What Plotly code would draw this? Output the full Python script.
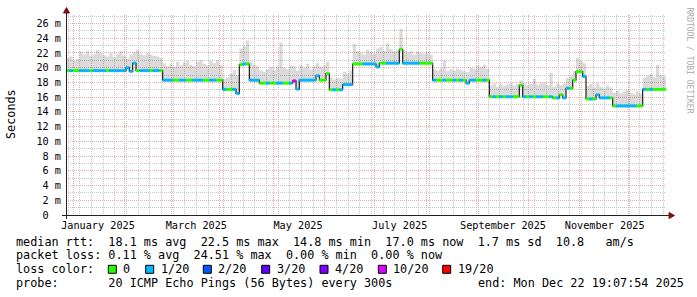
import pandas as pd
import plotly.graph_objects as go

# ---------------- data ----------------
start = pd.Timestamp("2024-12-27 19:07:54")
end = pd.Timestamp("2025-12-22 19:07:54")
step = pd.Timedelta(days=2)

median_ms = [
    19.6, 19.6, 19.6, 19.6, 19.6, 19.6, 19.6, 19.6, 19.6, 19.6,
    19.6, 19.6, 19.6, 19.6, 19.6, 19.6, 19.6, 19.6, 20.0, 19.5,
    20.6, 19.6, 19.6, 19.6, 19.6, 19.6, 19.6, 19.6, 19.6, 18.3,
    18.3, 18.3, 18.3, 18.3, 18.3, 18.3, 18.3, 18.3, 18.3, 18.3,
    18.3, 18.3, 18.3, 18.3, 18.3, 18.3, 18.3, 17.05, 17.05, 17.05,
    17.05, 16.5, 20.4, 20.5, 20.5, 18.3, 18.3, 18.3, 17.9, 17.9,
    17.9, 17.9, 17.9, 17.9, 17.9, 17.9, 17.9, 17.9, 18.2, 17.1,
    18.3, 18.3, 18.3, 18.3, 18.3, 18.9, 18.3, 18.3, 19.2, 17.0,
    17.0, 17.0, 17.0, 17.7, 17.7, 17.7, 20.5, 20.5, 20.5, 20.5,
    20.5, 20.5, 20.5, 20.1, 20.6, 20.6, 20.6, 20.6, 20.6, 20.6,
    22.5, 20.6, 20.6, 20.6, 20.6, 20.6, 20.6, 20.6, 20.6, 20.6,
    18.3, 18.3, 18.3, 18.3, 18.3, 18.3, 18.3, 18.3, 18.3, 18.3,
    17.9, 18.3, 18.3, 18.3, 18.3, 18.3, 18.3, 16.05, 16.05, 16.05,
    16.05, 16.05, 16.05, 16.05, 16.05, 16.05, 17.6, 16.05, 16.05, 16.05,
    16.05, 16.05, 16.05, 16.05, 16.05, 16.05, 15.9, 15.9, 16.3, 15.9,
    17.2, 17.2, 18.3, 19.45, 19.45, 18.8, 15.75, 15.75, 15.75, 16.3,
    15.9, 15.9, 15.9, 15.9, 14.8, 14.8, 14.8, 14.8, 14.8, 14.8,
    14.8, 14.8, 14.8, 17.05, 17.05, 17.05, 17.05, 17.05, 17.05, 17.05,
]

smoke_top_ms = [
    21.3, 21.5, 20.9, 21.2, 22.2, 21.8, 22.3, 21.6, 21.9, 22.4,
    22.0, 21.7, 21.5, 22.0, 21.4, 21.9, 22.3, 21.6, 21.2, 21.8,
    22.1, 22.4, 21.9, 21.7, 22.0, 21.8, 21.6, 21.5, 21.3, 20.6,
    20.2, 20.5, 20.1, 20.8, 20.3, 20.7, 20.9, 20.4, 20.2, 20.8,
    21.0, 20.5, 20.3, 20.9, 20.6, 21.0, 20.4, 18.5, 18.7, 19.2,
    19.7, 19.0, 22.6, 22.9, 23.7, 20.8, 20.4, 20.2, 19.6, 19.4,
    19.8, 20.1, 19.7, 20.2, 23.4, 20.0, 19.8, 20.3, 20.2, 19.6,
    20.4, 20.0, 20.5, 19.8, 20.2, 20.6, 20.1, 20.3, 20.8, 18.7,
    18.4, 18.6, 18.5, 19.4, 19.2, 19.6, 23.2, 22.3, 22.0, 21.8,
    22.4, 22.1, 21.9, 22.6, 22.8, 22.3, 23.3, 22.5, 22.2, 22.4,
    25.3, 22.4, 22.0, 22.3, 21.8, 22.2, 22.0, 21.9, 22.1, 21.8,
    19.8, 19.6, 19.9, 21.0, 19.5, 19.8, 19.6, 19.9, 19.7, 19.5,
    19.4, 20.0, 19.8, 20.3, 20.1, 20.4, 19.9, 17.6, 17.9, 17.4,
    17.8, 17.5, 17.7, 17.9, 17.6, 17.8, 18.3, 17.9, 17.6, 17.8,
    18.5, 17.7, 17.9, 18.0, 17.6, 19.3, 17.4, 17.8, 17.6, 17.9,
    18.6, 18.9, 19.5, 21.3, 20.9, 20.6, 17.5, 17.8, 17.3, 17.9,
    17.4, 17.2, 17.6, 17.3, 16.6, 16.9, 16.5, 16.8, 17.0, 16.6,
    16.4, 16.8, 16.5, 18.6, 18.9, 19.2, 18.7, 20.4, 19.0, 18.8,
]

# pings lost out of 20 (averaged, binned to the legend classes)
loss = [
    0, 1, 0, 0, 1, 1, 1, 0, 1, 1, 1, 1, 0, 1, 1, 1, 1, 1, 1, 1,
    1, 0, 1, 1, 1, 0, 1, 1, 0, 1, 1, 1, 0, 0, 1, 1, 0, 0, 1, 1,
    1, 0, 0, 1, 1, 0, 0, 1, 0, 0, 1, 1, 0, 1, 0, 1, 1, 1, 0, 0,
    1, 0, 0, 1, 1, 0, 0, 1, 10, 1, 1, 1, 1, 1, 1, 1, 0, 0, 0, 0,
    1, 0, 1, 1, 1, 1, 0, 0, 0, 1, 1, 1, 1, 1, 0, 0, 1, 1, 1, 1,
    0, 1, 1, 1, 1, 1, 0, 0, 0, 0, 1, 0, 0, 1, 0, 0, 1, 0, 1, 0,
    1, 1, 1, 0, 0, 1, 0, 0, 1, 0, 1, 0, 1, 1, 0, 0, 0, 1, 0, 1,
    0, 1, 1, 0, 0, 1, 0, 1, 0, 1, 1, 0, 0, 0, 0, 1, 0, 1, 0, 1,
    1, 1, 1, 0, 0, 1, 1, 1, 1, 1, 1, 0, 0, 1, 0, 1, 0, 0, 0, 0,
]

loss_classes = [0, 1, 2, 3, 4, 10, 19]
loss_labels = ["0", "1/20", "2/20", "3/20", "4/20", "10/20", "19/20"]
loss_colors = ["#26ff00", "#00b8ff", "#0059ff", "#5e00ff", "#7e00ff", "#dd00ff", "#ff0000"]

y_tick_vals = [0, 2, 4, 6, 8, 10, 12, 14, 16, 18, 20, 22, 24, 26]
y_tick_text = ["0  ", "2 m", "4 m", "6 m", "8 m", "10 m", "12 m", "14 m", "16 m",
               "18 m", "20 m", "22 m", "24 m", "26 m"]
x_label_dates = ["2025-01-16", "2025-03-16", "2025-05-16", "2025-07-16", "2025-09-16", "2025-11-16"]
x_label_text = ["January 2025", "March 2025", "May 2025", "July 2025", "September 2025", "November 2025"]

legend_lines = [
    "median rtt:  18.1 ms avg  22.5 ms max  14.8 ms min  17.0 ms now  1.7 ms sd  10.8   am/s",
    "packet loss: 0.11 % avg  24.51 % max  0.00 % min  0.00 % now",
    "loss color:",
    "probe:       20 ICMP Echo Pings (56 Bytes) every 300s",
]
end_text = "end: Mon Dec 22 19:07:54 2025"

# ---------------- geometry helpers (layout only) ----------------
W, H = 697, 297
PL, PR, PT, PB = 66, 666, 15, 215          # plot box in pixels
YMAX = 27.15
MONO = "DejaVu Sans Mono"
AX = "#202020"
ARROW = "#801010"
GRID = "#c8c8c8"
MGRID = "#f0a8a8"


def px(xp):
    return (xp - PL) / (PR - PL)


def py(yp):
    return (PB - yp) / (PB - PT)


def nb(s):
    return s.replace(" ", "\u00a0")


n = len(median_ms)
edges = [start + step * i for i in range(n + 1)]

fig = go.Figure()

# smoke: from median up to max ping
fig.add_trace(go.Scatter(x=edges, y=median_ms + [median_ms[-1]], mode="lines",
                         line=dict(width=0, shape="hv"), hoverinfo="skip", showlegend=False))
fig.add_trace(go.Scatter(x=edges, y=smoke_top_ms + [smoke_top_ms[-1]], mode="lines",
                         line=dict(width=0, shape="hv"), fill="tonexty",
                         fillcolor="rgba(0,0,0,0.14)", hoverinfo="skip", showlegend=False))

# thin dark median line (shows the steps)
fig.add_trace(go.Scatter(x=edges, y=median_ms + [median_ms[-1]], mode="lines", xaxis="x2",
                         line=dict(width=1.2, shape="hv", color=AX), hoverinfo="skip",
                         showlegend=False))

# thick median segments coloured by loss
for cls, col in zip(loss_classes, loss_colors):
    xs, ys = [], []
    for i in range(n):
        if loss[i] == cls:
            xs += [edges[i], edges[i + 1], None]
            ys += [median_ms[i], median_ms[i], None]
    if xs:
        fig.add_trace(go.Scatter(x=xs, y=ys, mode="lines", xaxis="x2",
                                 line=dict(width=3, color=col), hoverinfo="skip",
                                 showlegend=False))

shapes = []
# axis lines (extended like rrdtool) and arrows
shapes.append(dict(type="line", xref="paper", yref="paper", x0=px(62), x1=px(670), y0=py(215.5), y1=py(215.5),
                   line=dict(color=AX, width=1)))
shapes.append(dict(type="line", xref="paper", yref="paper", x0=px(66.5), x1=px(66.5), y0=py(219), y1=py(10),
                   line=dict(color=AX, width=1)))
shapes.append(dict(type="path", xref="paper", yref="paper",
                   path=f"M {px(669)},{py(212.5)} L {px(674.5)},{py(215.5)} L {px(669)},{py(218.5)} Z",
                   fillcolor=ARROW, line=dict(color=ARROW, width=1)))
shapes.append(dict(type="path", xref="paper", yref="paper",
                   path=f"M {px(63.5)},{py(13)} L {px(66.5)},{py(7.5)} L {px(69.5)},{py(13)} Z",
                   fillcolor=ARROW, line=dict(color=ARROW, width=1)))

annotations = []
FONT = dict(family=MONO, size=11.8, color="#000")
line_y = [241.5, 255.3, 269.3, 283.3]
for txt, yy in zip(legend_lines, line_y):
    annotations.append(dict(xref="paper", yref="paper", x=px(14), y=py(yy), xanchor="left", yanchor="middle",
                            text=nb(txt), showarrow=False, font=FONT))
annotations.append(dict(xref="paper", yref="paper", x=px(476), y=py(line_y[3]), xanchor="left",
                        yanchor="middle", text=nb(end_text), showarrow=False, font=FONT))

box_x = [108.3, 145.7, 203.3, 261.7, 320.0, 378.3, 442.7]
for bx, lab, col in zip(box_x, loss_labels, loss_colors):
    shapes.append(dict(type="rect", xref="paper", yref="paper", x0=px(bx), x1=px(bx + 8),
                       y0=py(line_y[2] + 4), y1=py(line_y[2] - 4),
                       fillcolor=col, line=dict(color="#000", width=1)))
    annotations.append(dict(xref="paper", yref="paper", x=px(bx + 13), y=py(line_y[2]), xanchor="left",
                            yanchor="middle", text=nb(lab), showarrow=False, font=FONT))

annotations.append(dict(xref="paper", yref="paper", x=px(11), y=py(114), textangle=-90,
                        xanchor="center", yanchor="middle",
                        text="Seconds", showarrow=False, font=FONT))
annotations.append(dict(xref="paper", yref="paper", x=px(688.5), y=py(60), textangle=90,
                        xanchor="center", yanchor="middle",
                        text=nb("RRDTOOL / TOBI OETIKER"), showarrow=False,
                        font=dict(family=MONO, size=8, color="#aaaaaa")))

fig.update_layout(
    width=W, height=H,
    margin=dict(l=PL, r=W - PR, t=PT, b=H - PB, pad=0),
    paper_bgcolor="#ffffff", plot_bgcolor="#ffffff",
    showlegend=False,
    xaxis=dict(type="date", range=[start, end], tickmode="array", tickvals=x_label_dates,
               ticktext=x_label_text, ticks="", showgrid=False, zeroline=False, showline=False,
               ticklabelstandoff=3,
               tickfont=dict(family=MONO, size=10.2, color="#000"),
               minor=dict(tick0="2025-01-05", dtick=7 * 86400000, showgrid=True,
                          gridcolor=GRID, griddash="1px,1px", gridwidth=1)),
    xaxis2=dict(type="date", range=[start, end], overlaying="x", tickmode="linear",
                tick0="2025-01-01", dtick="M1", showticklabels=False, ticks="", showgrid=True,
                gridcolor=MGRID, griddash="1px,1px", gridwidth=1, zeroline=False, showline=False),
    yaxis=dict(range=[0, YMAX], tickmode="array", tickvals=y_tick_vals, ticktext=[nb(t) for t in y_tick_text],
               ticks="", showgrid=True, gridcolor=MGRID, griddash="1px,1px", gridwidth=1,
               zeroline=False, showline=False, ticklabelstandoff=4,
               tickfont=dict(family=MONO, size=10.2, color="#000"),
               minor=dict(tick0=0, dtick=1, showgrid=True, gridcolor=GRID, griddash="1px,1px", gridwidth=1)),
    shapes=shapes,
    annotations=annotations,
)

fig.write_html("out.html")
